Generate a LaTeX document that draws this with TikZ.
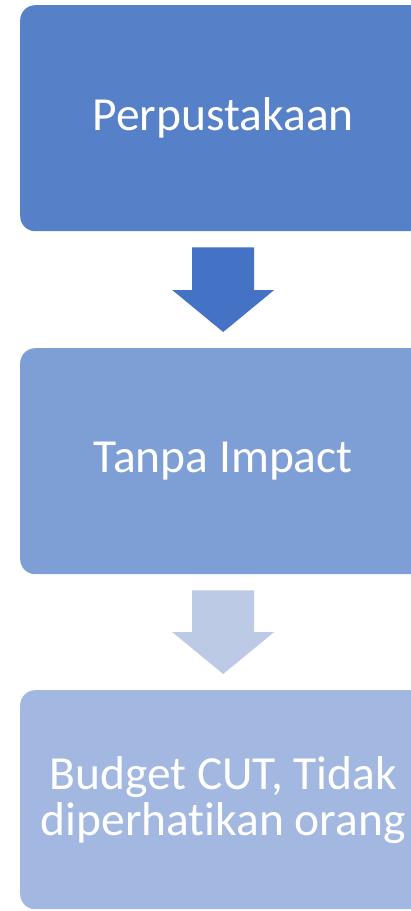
\documentclass[tikz,border=0pt]{standalone}
\usepackage{fontspec}
\setmainfont{Carlito}[Ligatures=NoCommon]
\definecolor{boxone}{HTML}{5681C9}
\definecolor{boxtwo}{HTML}{7E9FD6}
\definecolor{boxthree}{HTML}{A2B8E0}
\definecolor{arrowone}{HTML}{4472C4}
\definecolor{arrowtwo}{HTML}{BDCAE6}
\tikzset{
	stage/.style={fill=#1, rounded corners=15pt, minimum width=406pt, text=white,
		align=center, inner sep=0pt, font=\fontsize{47.5}{46}\selectfont},
}
\newcommand{\blockarrow}[3]{% colour, top node, bottom node
	\fill[#1] ([xshift=-31pt,yshift=-16pt]#2.south) -- ([xshift=31pt,yshift=-16pt]#2.south)
		-- ([xshift=31pt,yshift=58pt]#3.north) -- ([xshift=51pt,yshift=58pt]#3.north)
		-- ([yshift=16pt]#3.north) -- ([xshift=-51pt,yshift=58pt]#3.north)
		-- ([xshift=-31pt,yshift=58pt]#3.north) -- cycle;}
\begin{document}
\begin{tikzpicture}[x=1pt,y=-1pt]
		\useasboundingbox (0,0) rectangle (411,911);
		\clip (0,0) rectangle (411,911);
		
		\node[stage=boxone, minimum height=226pt, anchor=north west] (lib) at (20,5) {Perpustakaan};
		\node[stage=boxtwo, minimum height=226pt, anchor=north west] (impact) at (20,348) {Tanpa Impact};
		\node[stage=boxthree, minimum height=219pt, anchor=north west] (cut) at (20,690) {Budget CUT, Tidak\\diperhatikan orang};
		
		\blockarrow{arrowone}{lib}{impact}
		\blockarrow{arrowtwo}{impact}{cut}
		\end{tikzpicture}
\end{document}
